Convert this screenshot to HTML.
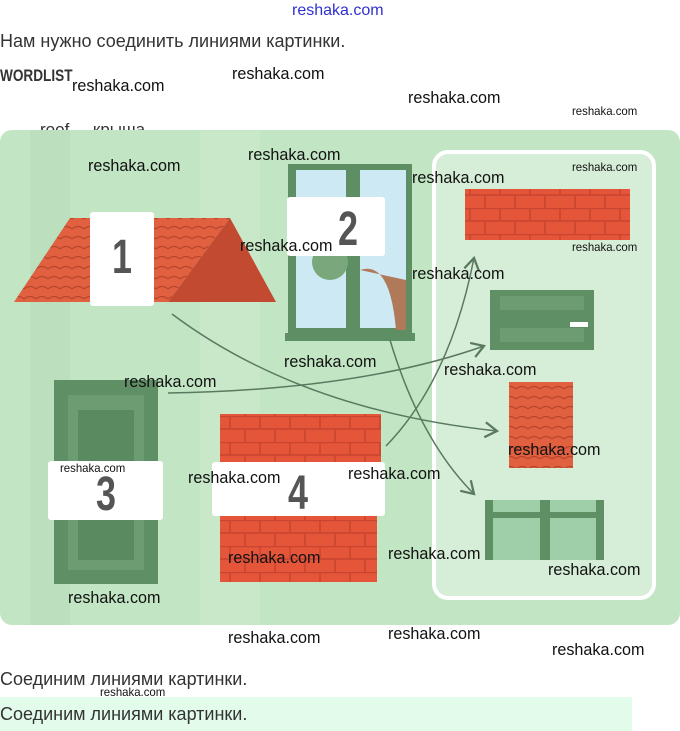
<!DOCTYPE html>
<html><head><meta charset="utf-8"><style>
body{margin:0;width:680px;height:731px;background:#fff;position:relative;overflow:hidden;font-family:"Liberation Sans",sans-serif}
.t{position:absolute;white-space:nowrap}
.w{position:absolute;white-space:nowrap;font-family:"Liberation Sans",sans-serif;color:#111;font-size:17px;transform:scaleX(0.95);transform-origin:left top}
.s{font-size:12px}
</style></head><body>
<div class="t" style="left:292px;top:2px;font-size:16px;color:#3030d0">reshaka.com</div>
<div class="t" style="left:0;top:31px;font-size:18px;color:#333">Нам нужно соединить линиями картинки.</div>
<div class="t" style="left:0;top:66px;font-size:17px;font-weight:bold;color:#333;transform:scaleX(0.8);transform-origin:left">WORDLIST</div>
<div class="t" style="left:40px;top:120px;font-size:17px;color:#333">roof &nbsp;&nbsp;&nbsp; крыша</div>
<svg style="position:absolute;left:0;top:0" width="680" height="731">
<defs><marker id="a" markerWidth="12" markerHeight="12" refX="9" refY="6" orient="auto"><path d="M1,1 L9,6 L1,11" fill="none" stroke="#5a7a60" stroke-width="1.5"/></marker>
<pattern id="br" width="60" height="26" patternUnits="userSpaceOnUse"><rect width="60" height="26" fill="#e4553a"/><path d="M0,13H60M0,0.5H60M20,0V13M50,0V13M5,13V26M35,13V26" stroke="#c84530" stroke-width="1.5"/></pattern>
<pattern id="tl" width="12" height="10" patternUnits="userSpaceOnUse"><rect width="12" height="10" fill="#e0603f"/><path d="M0,9 Q6,4 12,9" fill="none" stroke="#b8452c" stroke-width="1.3"/></pattern></defs>
<rect x="0" y="130" width="680" height="495" rx="12" fill="#c2e5c4"/>
<rect x="30" y="130" width="40" height="495" fill="#bcdfbe"/>
<rect x="200" y="130" width="60" height="495" fill="#c8e8c9"/>
<rect x="434" y="152" width="220" height="446" rx="14" fill="#d6eed7" stroke="#fff" stroke-width="4"/>
<polygon points="14,302 70,218 230,218 168,302" fill="url(#tl)"/>
<polygon points="168,302 230,218 276,302" fill="#c24a30"/>
<rect x="90" y="212" width="64" height="94" rx="3" fill="#fff"/>
<text x="122" y="273" font-size="48" fill="#555" text-anchor="middle" font-weight="bold" transform="translate(122 0) scale(0.75 1) translate(-122 0)">1</text>
<rect x="288" y="164" width="124" height="170" fill="#5e8f64"/>
<rect x="296" y="170" width="50" height="158" fill="#cde9f3"/>
<rect x="360" y="170" width="46" height="158" fill="#cde9f3"/>
<path d="M360,270 Q390,260 396,330 L406,330 L406,280 Z" fill="#b07a5a"/>
<circle cx="330" cy="262" r="18" fill="#7aa77c"/>
<rect x="285" y="333" width="130" height="8" fill="#5e8f64"/>
<rect x="287" y="197" width="98" height="59" rx="3" fill="#fff"/>
<text x="348" y="245" font-size="48" fill="#555" text-anchor="middle" font-weight="bold" transform="translate(348 0) scale(0.75 1) translate(-348 0)">2</text>
<rect x="54" y="380" width="104" height="204" fill="#5f8f65"/>
<rect x="68" y="395" width="76" height="175" fill="#6e9c72"/>
<rect x="78" y="410" width="56" height="150" fill="#5a8a60"/>
<rect x="48" y="461" width="115" height="59" rx="3" fill="#fff"/>
<text x="106" y="510" font-size="48" fill="#555" text-anchor="middle" font-weight="bold" transform="translate(106 0) scale(0.75 1) translate(-106 0)">3</text>
<rect x="220" y="414" width="161" height="81" fill="url(#br)"/>
<rect x="220" y="508" width="157" height="74" fill="url(#br)"/>
<rect x="212" y="462" width="173" height="54" rx="3" fill="#fff"/>
<text x="298" y="509" font-size="48" fill="#555" text-anchor="middle" font-weight="bold" transform="translate(298 0) scale(0.75 1) translate(-298 0)">4</text>
<rect x="465" y="189" width="165" height="51" fill="url(#br)"/>
<rect x="490" y="290" width="104" height="60" fill="#5f8f65"/>
<rect x="500" y="296" width="84" height="14" fill="#6e9c72"/><rect x="500" y="328" width="84" height="14" fill="#6e9c72"/>
<rect x="570" y="322" width="18" height="5" fill="#fff"/>
<rect x="509" y="382" width="64" height="86" fill="url(#tl)"/>
<rect x="485" y="500" width="119" height="60" fill="#9fcfa8"/>
<rect x="485" y="500" width="8" height="60" fill="#5f8f65"/><rect x="540" y="500" width="10" height="60" fill="#5f8f65"/><rect x="596" y="500" width="8" height="60" fill="#5f8f65"/>
<rect x="485" y="512" width="119" height="6" fill="#5f8f65"/>
<g fill="none" stroke="#5a7a60" stroke-width="1.5">
<path d="M172,314 Q300,410 497,431" marker-end="url(#a)"/>
<path d="M168,393 Q360,390 484,346" marker-end="url(#a)"/>
<path d="M386,446 Q450,380 474,258" marker-end="url(#a)"/>
<path d="M390,340 Q420,440 474,494" marker-end="url(#a)"/>
</g>
</svg>
<div class="w" style="left:72px;top:76px">reshaka.com</div>
<div class="w" style="left:232px;top:64px">reshaka.com</div>
<div class="w" style="left:408px;top:88px">reshaka.com</div>
<div class="w s" style="left:572px;top:104px">reshaka.com</div>
<div class="w" style="left:88px;top:156px">reshaka.com</div>
<div class="w" style="left:248px;top:145px">reshaka.com</div>
<div class="w" style="left:412px;top:168px">reshaka.com</div>
<div class="w s" style="left:572px;top:160px">reshaka.com</div>
<div class="w" style="left:240px;top:236px">reshaka.com</div>
<div class="w s" style="left:572px;top:240px">reshaka.com</div>
<div class="w" style="left:412px;top:264px">reshaka.com</div>
<div class="w" style="left:284px;top:352px">reshaka.com</div>
<div class="w" style="left:444px;top:360px">reshaka.com</div>
<div class="w" style="left:124px;top:372px">reshaka.com</div>
<div class="w" style="left:508px;top:440px">reshaka.com</div>
<div class="w s" style="left:60px;top:461px">reshaka.com</div>
<div class="w" style="left:188px;top:468px">reshaka.com</div>
<div class="w" style="left:348px;top:464px">reshaka.com</div>
<div class="w" style="left:228px;top:548px">reshaka.com</div>
<div class="w" style="left:388px;top:544px">reshaka.com</div>
<div class="w" style="left:548px;top:560px">reshaka.com</div>
<div class="w" style="left:68px;top:588px">reshaka.com</div>
<div class="w" style="left:228px;top:628px">reshaka.com</div>
<div class="w" style="left:388px;top:624px">reshaka.com</div>
<div class="w" style="left:552px;top:640px">reshaka.com</div>
<div class="t" style="left:0;top:669px;font-size:18px;color:#333">Соединим линиями картинки.</div>
<div class="w s" style="left:100px;top:685px">reshaka.com</div>
<div style="position:absolute;left:0;top:697px;width:632px;height:34px;background:#e2fbea"></div>
<div class="t" style="left:0;top:704px;font-size:18px;color:#333">Соединим линиями картинки.</div>
</body></html>
